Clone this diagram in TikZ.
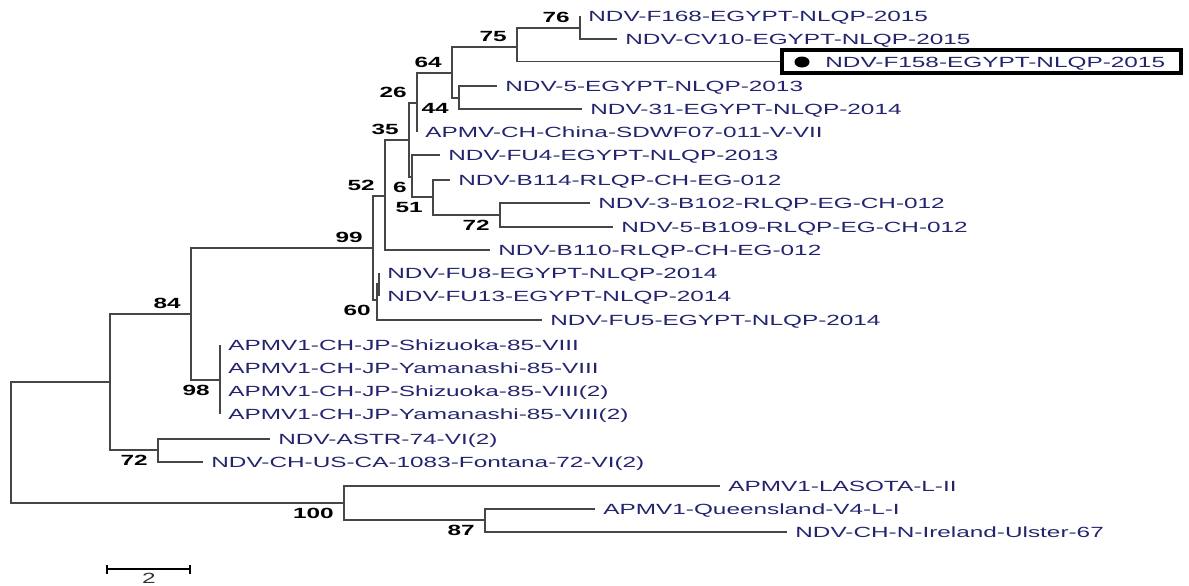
\documentclass[tikz,border=0pt]{standalone}
\usepackage{fontspec}
\setmainfont[FakeStretch=1.65]{Liberation Sans}
\definecolor{taxon}{RGB}{36,36,110}
\definecolor{branch}{RGB}{70,70,70}

\begin{document}
\begin{tikzpicture}[x=0.02cm,y=-0.02cm,
    leaf/.style={anchor=west,inner xsep=0.16cm,inner ysep=0pt,text=taxon,
      font=\fontsize{8.4}{10}\selectfont,text height=1.5ex,text depth=.25ex},
    bsup/.style={anchor=south east,inner xsep=0.2cm,inner ysep=0.1cm,
      font=\fontsize{8.4}{10}\selectfont\bfseries},
    bsdn/.style={bsup,anchor=north east},
    twig/.style={draw=branch,line width=0.9pt}]
    \useasboundingbox (0,0) rectangle (1189,585);

    % taxa
    \node[leaf] (f168) at (580,16) {NDV-F168-EGYPT-NLQP-2015};
    \node[leaf] (cv10) at (617,39) {NDV-CV10-EGYPT-NLQP-2015};
    \node[draw,line width=2.6pt,minimum width=7.98cm,minimum height=0.46cm,inner sep=0pt] (f158box) at (981.5,61.5) {};
    \fill (802,62) coordinate (f158dot) ellipse [x radius=7.5, y radius=5.5];
    \node[leaf,inner xsep=0pt] (f158) at (825,62) {NDV-F158-EGYPT-NLQP-2015};
    \node[leaf] (ndv5) at (497,86) {NDV-5-EGYPT-NLQP-2013};
    \node[leaf] (ndv31) at (582,109) {NDV-31-EGYPT-NLQP-2014};
    \node[leaf] (china) at (417,132) {APMV-CH-China-SDWF07-011-V-VII};
    \node[leaf] (fu4) at (440,155) {NDV-FU4-EGYPT-NLQP-2013};
    \node[leaf] (b114) at (450,180) {NDV-B114-RLQP-CH-EG-012};
    \node[leaf] (b102) at (590,203) {NDV-3-B102-RLQP-EG-CH-012};
    \node[leaf] (b109) at (613,227) {NDV-5-B109-RLQP-EG-CH-012};
    \node[leaf] (b110) at (490,250) {NDV-B110-RLQP-CH-EG-012};
    \node[leaf] (fu8) at (379,273) {NDV-FU8-EGYPT-NLQP-2014};
    \node[leaf] (fu13) at (379,296) {NDV-FU13-EGYPT-NLQP-2014};
    \node[leaf] (fu5) at (542,320) {NDV-FU5-EGYPT-NLQP-2014};
    \node[leaf] (jp1) at (220,345) {APMV1-CH-JP-Shizuoka-85-VIII};
    \node[leaf] (jp2) at (220,368) {APMV1-CH-JP-Yamanashi-85-VIII};
    \node[leaf] (jp3) at (220,391) {APMV1-CH-JP-Shizuoka-85-VIII(2)};
    \node[leaf] (jp4) at (220,414) {APMV1-CH-JP-Yamanashi-85-VIII(2)};
    \node[leaf] (astr) at (270,439) {NDV-ASTR-74-VI(2)};
    \node[leaf] (fontana) at (203,462) {NDV-CH-US-CA-1083-Fontana-72-VI(2)};
    \node[leaf] (lasota) at (720,486) {APMV1-LASOTA-L-II};
    \node[leaf] (queens) at (595,509) {APMV1-Queensland-V4-L-I};
    \node[leaf] (ulster) at (787,532) {NDV-CH-N-Ireland-Ulster-67};

    % inner nodes
    \coordinate (root) at (11,442);
    \coordinate (nA) at (110,382);
    \coordinate (n84) at (191,314);
    \coordinate (n99) at (373,248);
    \coordinate (n52) at (385,196);
    \coordinate (n35) at (409,140);
    \coordinate (n26) at (417,103);
    \coordinate (n64) at (452,73);
    \coordinate (n75) at (517,47);
    \coordinate (n76) at (580,28);
    \coordinate (n44) at (459,98);
    \coordinate (n6) at (412,177);
    \coordinate (n51) at (433,197);
    \coordinate (n72) at (500,215);
    \coordinate (n60) at (377,300);
    \coordinate (nfu) at (379,284);
    \coordinate (n98) at (220,380);
    \coordinate (n72b) at (158,450);
    \coordinate (n100) at (344,503);
    \coordinate (n87) at (485,520);

    \foreach \p/\c in {root/nA,root/n100,nA/n84,nA/n72b,n84/n99,n84/n98,
        n99/n52,n99/n60,n52/n35,n35/n26,n35/n6,n26/n64,n64/n75,n64/n44,
        n75/n76,n6/n51,n51/n72,n60/nfu,n100/n87}
      \draw[twig] (\p) |- (\c);
    \foreach \p/\c in {n76/f168,n76/cv10,n75/f158box,n44/ndv5,n44/ndv31,
        n26/china,n6/fu4,n51/b114,n72/b102,n72/b109,n52/b110,nfu/fu8,
        nfu/fu13,n60/fu5,n98/jp1,n98/jp2,n98/jp3,n98/jp4,n72b/astr,
        n72b/fontana,n100/lasota,n87/queens,n87/ulster}
      \draw[twig] (\p) |- (\c.west);

    % bootstrap values
    \node[bsup] (b76) at (n76) {76};
    \node[bsup] (b75) at (n75) {75};
    \node[bsup] (b64) at (n64) {64};
    \node[bsup] (b26) at (n26) {26};
    \node[bsdn] (b44) at (n44) {44};
    \node[bsup] (b35) at (n35) {35};
    \node[bsup] (b52) at (n52) {52};
    \node[bsdn,xshift=0.1cm] (b6) at (n6) {6};
    \node[bsdn] (b51) at (n51) {51};
    \node[bsdn] (b72) at (n72) {72};
    \node[bsup] (b99) at (n99) {99};
    \node[bsdn,xshift=0.08cm] (b60) at (n60) {60};
    \node[bsup] (b84) at (n84) {84};
    \node[bsdn] (b98) at (n98) {98};
    \node[bsdn] (b72b) at (n72b) {72};
    \node[bsdn] (b100) at (n100) {100};
    \node[bsdn] (b87) at (n87) {87};

    % scale bar
    \coordinate (sb1) at (107,569);
    \coordinate (sb2) at (190,569);
    \draw[line width=0.8pt] (sb1) -- (sb2);
    \draw[line width=1.6pt] ([yshift=0.09cm]sb1) -- ([yshift=-0.09cm]sb1);
    \draw[line width=1.6pt] ([yshift=0.09cm]sb2) -- ([yshift=-0.09cm]sb2);
    \node[font=\fontsize{8.4}{10}\selectfont,text=black!80,inner sep=0pt] (sbtxt) at (149,578) {2};
\end{tikzpicture}
\end{document}
